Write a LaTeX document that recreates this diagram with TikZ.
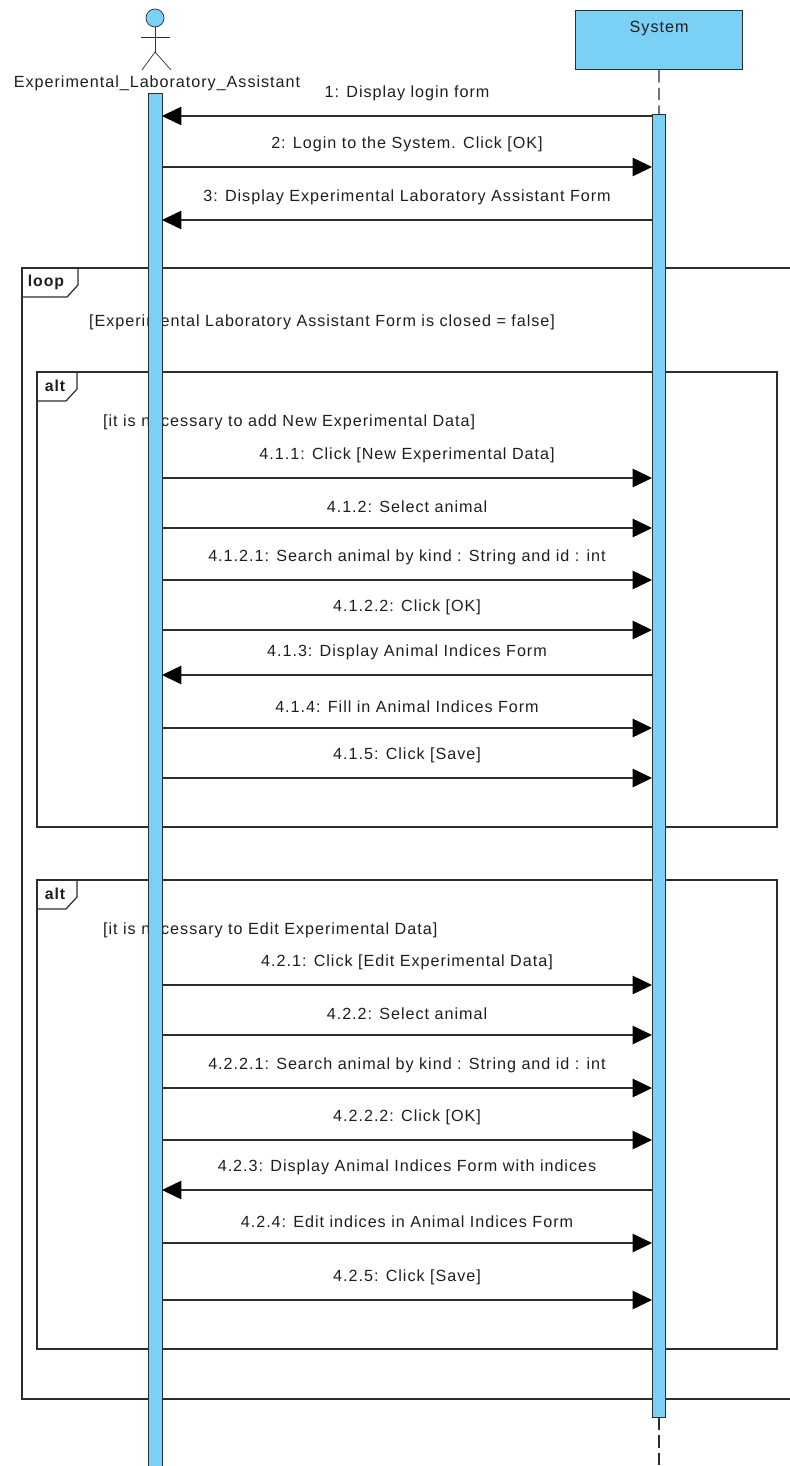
\documentclass[tikz,border=0pt]{standalone}
\usepackage{fontspec}
\setmainfont{Liberation Sans}[LetterSpace=6]
\usetikzlibrary{arrows.meta,positioning}

\begin{document}
\begin{tikzpicture}[x=0.02cm,y=-0.02cm,font=\fontsize{9.2}{11}\selectfont]
        % Farben
        \definecolor{barblue}{RGB}{122, 208, 245}
        \definecolor{linegray}{RGB}{45, 45, 45}
        \definecolor{txtgray}{RGB}{30, 30, 30}

        \tikzset{
            msg/.style={draw=linegray, line width=0.6pt, -{Triangle[length=11pt, width=10.5pt, color=black]}},
            actbar/.style={draw=linegray, fill=barblue, line width=0.6pt, minimum width=0.27cm, inner sep=0pt},
            frame/.style={draw=linegray, line width=0.7pt},
            msglabel/.style={midway, above=5pt, text=txtgray},
            guard/.style={anchor=west, text=txtgray},
            tag/.style={font=\fontsize{9}{11}\selectfont\bfseries, text=txtgray}
        }

        \useasboundingbox (0,0) rectangle (790,1466);

        % Akteur
        \draw[linegray, fill=barblue] (155,18) circle (9);
        \draw[linegray] (155,27) -- (155,52);
        \draw[linegray] (141,37) -- (170,37);
        \draw[linegray] (142,70) -- (155,52) -- (171,70);
        \node[text=txtgray] (actor) at (157,83) {Experimental\_Laboratory\_Assistant};

        % System
        \node[draw=linegray, fill=barblue, line width=0.7pt, minimum width=3.34cm, minimum height=1.18cm,
              anchor=north west] (system) at (575,10) {};
        \node[text=txtgray, below=3pt of system.north] (systemlbl) {System};

        % Rahmen: loop
        \draw[frame] (795,268) -- (22,268) -- (22,1399) -- (795,1399);
        \draw[frame] (22,297) -- (67,297) -- (78,285) -- (78,268);
        \node[tag] (looptag) at (46,282) {loop};
        \node[guard] (loopguard) at (83,322) {[Experimental Laboratory Assistant Form is closed = false]};

        % Rahmen: erstes alt
        \draw[frame] (37,372) rectangle (777,827);
        \draw[frame] (37,401) -- (66,401) -- (77,389) -- (77,372);
        \node[tag] (alttag1) at (55,386) {alt};
        \node[guard] (altguard1) at (97,422) {[it is necessary to add New Experimental Data]};

        % Rahmen: zweites alt
        \draw[frame] (37,880) rectangle (777,1349);
        \draw[frame] (37,909) -- (66,909) -- (77,897) -- (77,880);
        \node[tag] (alttag2) at (55,894) {alt};
        \node[guard] (altguard2) at (97,930) {[it is necessary to Edit Experimental Data]};

        % Lebenslinien und Aktivierungsbalken
        \node[actbar, minimum height=27.7cm, anchor=north] (actbar) at (155.5,93) {};
        \node[actbar, minimum height=26.06cm, anchor=north] (sysbar) at (659,114) {};
        \coordinate (sysend) at (659,1470);
        \draw[linegray, dashed, dash pattern=on 7pt off 3pt, line width=0.7pt] (system.south) -- (sysbar.north);
        \draw[linegray, dashed, dash pattern=on 7pt off 3pt, line width=0.7pt] (sysbar.south) -- (sysend);

        % Endpunkte der Nachrichten
        \coordinate (a1) at (162,116);   \coordinate (s1) at (652,116);
        \coordinate (a2) at (162,167);   \coordinate (s2) at (652,167);
        \coordinate (a3) at (162,220);   \coordinate (s3) at (652,220);
        \coordinate (a4) at (162,478);   \coordinate (s4) at (652,478);
        \coordinate (a5) at (162,528);   \coordinate (s5) at (652,528);
        \coordinate (a6) at (162,580);   \coordinate (s6) at (652,580);
        \coordinate (a7) at (162,630);   \coordinate (s7) at (652,630);
        \coordinate (a8) at (162,675);   \coordinate (s8) at (652,675);
        \coordinate (a9) at (162,728);   \coordinate (s9) at (652,728);
        \coordinate (a10) at (162,778);  \coordinate (s10) at (652,778);
        \coordinate (a11) at (162,985);  \coordinate (s11) at (652,985);
        \coordinate (a12) at (162,1035); \coordinate (s12) at (652,1035);
        \coordinate (a13) at (162,1088); \coordinate (s13) at (652,1088);
        \coordinate (a14) at (162,1140); \coordinate (s14) at (652,1140);
        \coordinate (a15) at (162,1190); \coordinate (s15) at (652,1190);
        \coordinate (a16) at (162,1243); \coordinate (s16) at (652,1243);
        \coordinate (a17) at (162,1300); \coordinate (s17) at (652,1300);

        % Nachrichten
        \draw[msg] (s1) -- (a1) node[msglabel] {1: Display login form};
        \draw[msg] (a2) -- (s2) node[msglabel] {2: Login to the System. Click [OK]};
        \draw[msg] (s3) -- (a3) node[msglabel] {3: Display Experimental Laboratory Assistant Form};

        \draw[msg] (a4) -- (s4) node[msglabel] {4.1.1: Click [New Experimental Data]};
        \draw[msg] (a5) -- (s5) node[msglabel] {4.1.2: Select animal};
        \draw[msg] (a6) -- (s6) node[msglabel] {4.1.2.1: Search animal by kind : String and id : int};
        \draw[msg] (a7) -- (s7) node[msglabel] {4.1.2.2: Click [OK]};
        \draw[msg] (s8) -- (a8) node[msglabel] {4.1.3: Display Animal Indices Form};
        \draw[msg] (a9) -- (s9) node[msglabel] {4.1.4: Fill in Animal Indices Form};
        \draw[msg] (a10) -- (s10) node[msglabel] {4.1.5: Click [Save]};

        \draw[msg] (a11) -- (s11) node[msglabel] {4.2.1: Click [Edit Experimental Data]};
        \draw[msg] (a12) -- (s12) node[msglabel] {4.2.2: Select animal};
        \draw[msg] (a13) -- (s13) node[msglabel] {4.2.2.1: Search animal by kind : String and id : int};
        \draw[msg] (a14) -- (s14) node[msglabel] {4.2.2.2: Click [OK]};
        \draw[msg] (s15) -- (a15) node[msglabel] {4.2.3: Display Animal Indices Form with indices};
        \draw[msg] (a16) -- (s16) node[msglabel] {4.2.4: Edit indices in Animal Indices Form};
        \draw[msg] (a17) -- (s17) node[msglabel] {4.2.5: Click [Save]};
    \end{tikzpicture}
\end{document}
